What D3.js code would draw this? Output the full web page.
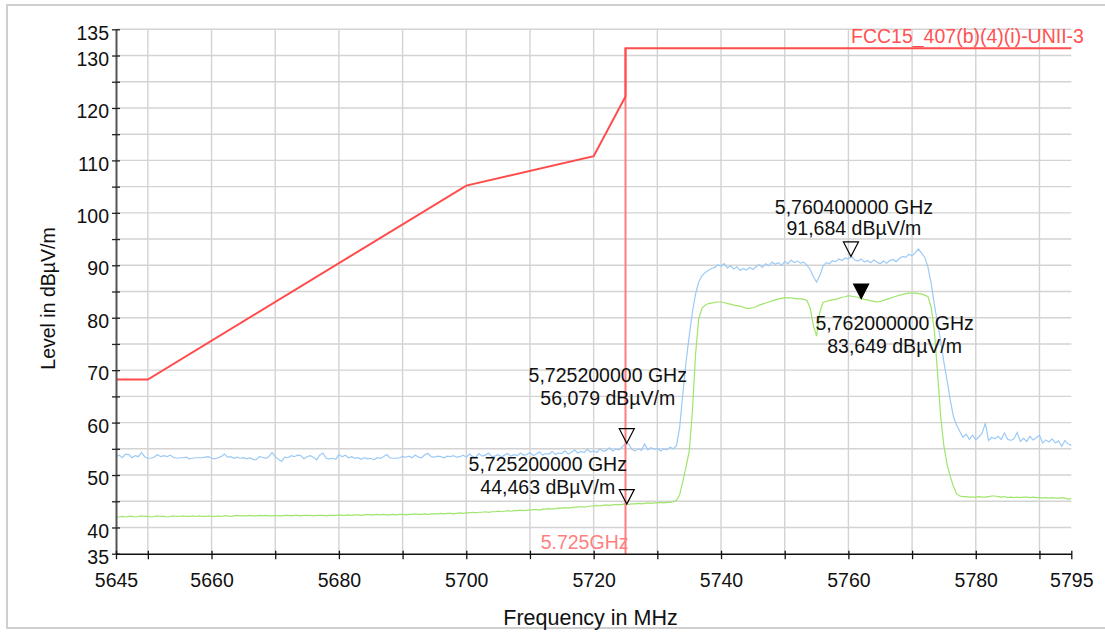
<!DOCTYPE html>
<html>
<head>
<meta charset="utf-8">
<script src="https://cdn.jsdelivr.net/npm/d3@7"></script>
<style>
  html, body { margin: 0; padding: 0; background: #fff; }
  svg { display: block; font-family: "Liberation Sans", Arial, sans-serif; }
</style>
</head>
<body>
<svg id="chart" width="1105" height="632"></svg>
<script>
// ---------------- data ----------------
const freqStart = 5645, freqStep = 0.5;   // trace sampling (MHz)

// Peak trace (blue), dBµV/m, one value per 0.5 MHz from 5645 to 5795
const peakLevels = [
  53.5,53.8,53.3,54.0,53.9,53.3,53.7,53.5,54.3,53.5,
  53.2,53.2,53.4,53.9,53.5,53.7,53.5,53.8,53.4,53.2,
  53.3,53.3,53.4,53.1,53.2,53.3,53.3,53.3,53.4,53.5,
  53.2,53.1,53.3,53.5,54.0,53.4,53.5,53.2,53.4,53.2,
  53.3,53.1,53.3,53.0,52.9,53.5,53.4,53.2,53.5,54.3,
  53.5,53.0,52.6,53.4,53.3,53.7,53.5,53.8,53.7,53.1,
  53.5,53.7,53.4,52.9,53.8,54.2,53.2,53.1,53.2,53.0,
  53.9,53.5,53.8,53.3,53.5,53.2,53.3,53.0,53.3,53.1,
  53.2,52.9,53.3,53.2,53.5,53.9,53.3,53.2,53.2,53.3,
  53.5,53.4,53.6,53.3,53.8,53.4,53.3,53.9,54.1,53.5,
  53.4,53.6,53.5,53.3,53.6,53.5,53.7,53.4,53.5,53.8,
  53.4,54.0,53.5,53.4,54.1,53.6,53.8,54.2,53.5,53.6,
  53.9,53.5,53.8,54.1,53.6,53.9,53.7,54.2,53.8,53.9,
  54.3,53.7,54.0,54.4,53.8,54.1,54.0,54.5,53.9,54.2,
  54.1,54.6,54.0,54.3,54.8,54.2,54.5,54.3,54.9,54.4,
  54.6,54.3,55.0,54.5,54.7,55.2,54.6,55.0,54.8,55.4,
  56.0,55.9,54.9,54.6,55.0,54.7,55.9,54.8,55.2,54.9,
  55.1,54.6,55.0,54.8,55.3,55.0,55.6,59.0,65.5,71.5,
  76.5,81.0,84.5,86.8,88.0,88.6,89.0,89.4,89.6,90.1,
  89.8,90.3,89.5,89.9,89.3,89.7,89.0,89.4,89.1,89.6,
  89.2,89.7,90.1,89.6,90.3,89.9,90.6,90.2,90.5,90.0,
  90.7,90.3,91.0,90.5,90.8,90.4,90.6,90.0,89.2,87.8,
  86.8,88.0,89.8,90.5,90.3,90.9,90.7,91.2,90.9,91.4,
  91.2,91.7,91.0,90.8,91.2,90.6,90.9,90.5,91.0,90.6,
  90.3,90.8,90.4,90.9,91.1,90.7,91.3,91.7,91.5,92.1,
  91.8,92.4,93.1,92.3,91.5,89.6,86.5,82.5,79.0,75.5,
  71.5,68.0,64.3,61.1,59.5,58.3,57.2,57.8,56.8,57.6,
  56.7,57.3,58.0,59.9,56.6,57.2,56.9,57.4,56.8,58.0,
  56.8,56.6,56.9,58.1,56.4,57.0,56.4,57.4,56.7,57.1,
  57.6,56.1,56.7,56.3,56.9,56.1,56.5,55.5,56.6,55.9,
  55.7
];

// Average trace (green), dBµV/m, one value per 0.5 MHz from 5645 to 5795
const avgLevels = [
  42.0,42.0,42.1,42.0,42.1,42.1,42.0,42.1,42.2,42.1,
  42.1,42.0,42.1,42.2,42.1,42.1,42.0,42.1,42.2,42.1,
  42.1,42.2,42.1,42.1,42.2,42.1,42.2,42.1,42.1,42.2,
  42.1,42.1,42.2,42.1,42.2,42.2,42.1,42.2,42.3,42.2,
  42.2,42.2,42.3,42.2,42.2,42.3,42.2,42.3,42.2,42.2,
  42.3,42.2,42.2,42.3,42.3,42.2,42.3,42.3,42.2,42.3,
  42.3,42.3,42.2,42.3,42.3,42.3,42.2,42.3,42.3,42.3,
  42.4,42.3,42.3,42.4,42.3,42.4,42.4,42.3,42.4,42.5,
  42.4,42.4,42.5,42.4,42.5,42.4,42.4,42.5,42.4,42.5,
  42.5,42.4,42.5,42.5,42.6,42.5,42.5,42.6,42.5,42.6,
  42.6,42.6,42.7,42.6,42.7,42.7,42.6,42.7,42.8,42.7,
  42.8,42.8,42.9,42.8,42.9,42.9,43.0,42.9,43.0,43.0,
  43.1,43.0,43.1,43.2,43.1,43.2,43.2,43.3,43.2,43.3,
  43.3,43.4,43.4,43.3,43.5,43.5,43.6,43.5,43.6,43.7,
  43.7,43.8,43.7,43.8,43.9,43.9,44.0,43.9,44.0,44.1,
  44.1,44.2,44.1,44.2,44.3,44.2,44.3,44.4,44.3,44.4,
  44.5,44.4,44.5,44.5,44.6,44.5,44.6,44.7,44.6,44.7,
  44.7,44.8,44.7,44.8,44.8,44.9,45.2,46.2,48.8,51.5,
  54.5,62.0,73.0,79.8,81.8,82.4,82.7,82.8,82.9,83.0,
  83.0,82.9,82.7,82.6,82.4,82.3,82.2,82.0,81.8,81.8,
  81.9,82.1,82.4,82.6,82.8,83.0,83.2,83.4,83.6,83.7,
  83.8,83.8,83.8,83.7,83.6,83.6,83.5,83.3,81.8,78.5,
  76.5,81.0,82.9,83.1,83.3,83.4,83.5,83.7,83.9,84.0,
  84.2,84.1,84.0,83.9,83.7,83.5,83.4,83.2,83.1,83.0,
  83.1,83.3,83.5,83.7,83.9,84.1,84.3,84.4,84.6,84.7,
  84.7,84.7,84.6,84.5,84.3,84.0,82.0,77.5,69.5,61.0,
  55.5,52.0,49.7,47.8,46.4,46.0,45.9,45.9,45.8,45.8,
  45.8,45.9,45.8,45.8,45.9,46.0,46.0,45.9,45.8,45.9,
  45.7,45.8,45.7,45.8,45.7,45.8,45.8,45.7,45.8,45.7,
  45.7,45.6,45.7,45.6,45.7,45.6,45.6,45.7,45.6,45.4,
  45.5
];

// Limit line FCC15_407(b)(4)(i)-UNII-3
const limitName = "FCC15_407(b)(4)(i)-UNII-3";
const limitFreqs  = [5645, 5650, 5700, 5720, 5725, 5725, 5795];
const limitLevels = [68.2, 68.2, 105.2, 110.8, 122.2, 131.4, 131.4];

// Band-edge display line
const edgeFreq = 5725;
const edgeLabel = "5.725GHz";

// Markers
const markerFreqs   = [5760.4, 5762.0, 5725.2, 5725.2];
const markerLevels  = [91.684, 83.649, 56.079, 44.463];
const markerFilled  = [false, true, false, false];
const markerFreqTxt = ["5,760400000 GHz", "5,762000000 GHz", "5,725200000 GHz", "5,725200000 GHz"];
const markerLvlTxt  = ["91,684 dBµV/m", "83,649 dBµV/m", "56,079 dBµV/m", "44,463 dBµV/m"];

// Axes
const xTickValues = [5645, 5650, 5660, 5670, 5680, 5690, 5700, 5710, 5720, 5730, 5740, 5750, 5760, 5770, 5780, 5790, 5795];
const xTickLabels = [5645, 5660, 5680, 5700, 5720, 5740, 5760, 5780, 5795];
const xGridValues = [5650, 5660, 5670, 5680, 5690, 5700, 5710, 5720, 5730, 5740, 5750, 5760, 5770, 5780, 5790];
const yTickValues = [35, 40, 45, 50, 55, 60, 65, 70, 75, 80, 85, 90, 95, 100, 105, 110, 115, 120, 125, 130, 135];
const yTickLabels = [35, 40, 50, 60, 70, 80, 90, 100, 110, 120, 130, 135];
const yGridValues = [40, 45, 50, 55, 60, 65, 70, 75, 80, 85, 90, 95, 100, 105, 110, 115, 120, 125, 130, 135];
const xTitle = "Frequency in MHz";
const yTitle = "Level in dBµV/m";

// ---------------- layout ----------------
const L = 116, R = 1071.3, T = 29.3, B = 553.7;
// label placement relative to marker tip [dx, dy line1, dy line2]
const markerLabelOffsets = [[3, -42.5, -21.5], [33.5, 31.4, 54.4], [-19, -61.2, -38.2], [-79, -33, -10]];

const svg = d3.select("#chart");
const x = d3.scaleLinear().domain([5645, 5795]).range([L, R]);
const y = d3.scaleLinear().domain([35, 135]).range([B, T]);

// outer frame
svg.append("rect").attr("x", 7).attr("y", 5).attr("width", 1200).attr("height", 623)
  .attr("fill", "none").attr("stroke", "#cfcfcf").attr("stroke-width", 2);

// grid
const grid = svg.append("g").attr("stroke", "#d3d3d3").attr("stroke-width", 1.4);
grid.selectAll("line.h").data(yGridValues).join("line").attr("class", "h")
  .attr("x1", L).attr("x2", R).attr("y1", d => y(d)).attr("y2", d => y(d));
grid.selectAll("line.v").data(xGridValues).join("line").attr("class", "v")
  .attr("x1", d => x(d)).attr("x2", d => x(d)).attr("y1", T).attr("y2", B);

// traces
const freqs = peakLevels.map((_, i) => freqStart + i * freqStep);
const line = d3.line().x(d => x(d[0])).y(d => y(d[1]));
svg.append("path").datum(freqs.map((f, i) => [f, avgLevels[i]]))
  .attr("d", line).attr("fill", "none").attr("stroke", "#9fe56a").attr("stroke-width", 1.2);
svg.append("path").datum(freqs.map((f, i) => [f, peakLevels[i]]))
  .attr("d", line).attr("fill", "none").attr("stroke", "#9ccaf6").attr("stroke-width", 1.2);

// band-edge line
svg.append("line").attr("x1", x(edgeFreq)).attr("x2", x(edgeFreq))
  .attr("y1", y(limitLevels[limitLevels.length - 1])).attr("y2", B)
  .attr("stroke", "#ff7d7d").attr("stroke-width", 2);
svg.append("text").attr("x", x(edgeFreq) + 3).attr("y", 549)
  .attr("text-anchor", "end").attr("font-size", "19.5px").attr("fill", "#ff7f7f").text(edgeLabel);

// limit line
svg.append("path").datum(limitFreqs.map((f, i) => [f, limitLevels[i]]))
  .attr("d", line).attr("fill", "none").attr("stroke", "#ff4b4b").attr("stroke-width", 2);
svg.append("text").attr("x", 851).attr("y", 43).attr("font-size", "19.5px")
  .attr("fill", "#ff5252").text(limitName);

// markers
markerFreqs.forEach((f, i) => {
  const mx = x(f), my = y(markerLevels[i]);
  svg.append("path")
    .attr("d", `M${mx},${my} L${mx - 7.5},${my - 14.5} L${mx + 7.5},${my - 14.5} Z`)
    .attr("fill", markerFilled[i] ? "#000" : "none").attr("stroke", "#000").attr("stroke-width", 1.2);
  const o = markerLabelOffsets[i];
  const g = svg.append("g").attr("font-size", "19.5px").attr("fill", "#111").attr("text-anchor", "middle");
  g.append("text").attr("x", mx + o[0]).attr("y", my + o[1]).text(markerFreqTxt[i]);
  g.append("text").attr("x", mx + o[0]).attr("y", my + o[2]).text(markerLvlTxt[i]);
});

// axes
const yAxis = d3.axisLeft(y).tickValues(yTickValues).tickSizeInner(4).tickSizeOuter(0).tickPadding(3)
  .tickFormat(d => yTickLabels.includes(d) ? d : "");
const gy = svg.append("g").attr("transform", `translate(${L},0)`).call(yAxis);
gy.select(".domain").attr("stroke", "#555").attr("stroke-width", 2);
gy.selectAll(".tick line").attr("x1", 4).attr("x2", -4).attr("stroke", "#222").attr("stroke-width", 1.3);
gy.selectAll(".tick text").attr("dy", null).attr("y", 9.7)
  .attr("font-size", "19.5px").attr("fill", "#111");
gy.attr("font-family", null);

const xAxis = d3.axisBottom(x).tickValues(xTickValues).tickSizeInner(5).tickSizeOuter(0)
  .tickFormat(d => xTickLabels.includes(d) ? d : "");
const gx = svg.append("g").attr("transform", `translate(0,${B})`).call(xAxis);
gx.select(".domain").attr("stroke", "#111").attr("stroke-width", 1.5);
gx.selectAll(".tick line").attr("y1", -3).attr("y2", 5.5).attr("stroke", "#111").attr("stroke-width", 1.3);
gx.selectAll(".tick text").attr("dy", null).attr("y", 33.3)
  .attr("font-size", "19.5px").attr("fill", "#111");
gx.attr("font-family", null);

// axis titles
svg.append("text").attr("x", 590.5).attr("y", 625).attr("text-anchor", "middle")
  .attr("font-size", "21.5px").attr("fill", "#111").text(xTitle);
svg.append("text").attr("transform", "translate(55,298.5) rotate(-90)").attr("text-anchor", "middle")
  .attr("font-size", "19.5px").attr("fill", "#111").text(yTitle);
</script>
</body>
</html>
